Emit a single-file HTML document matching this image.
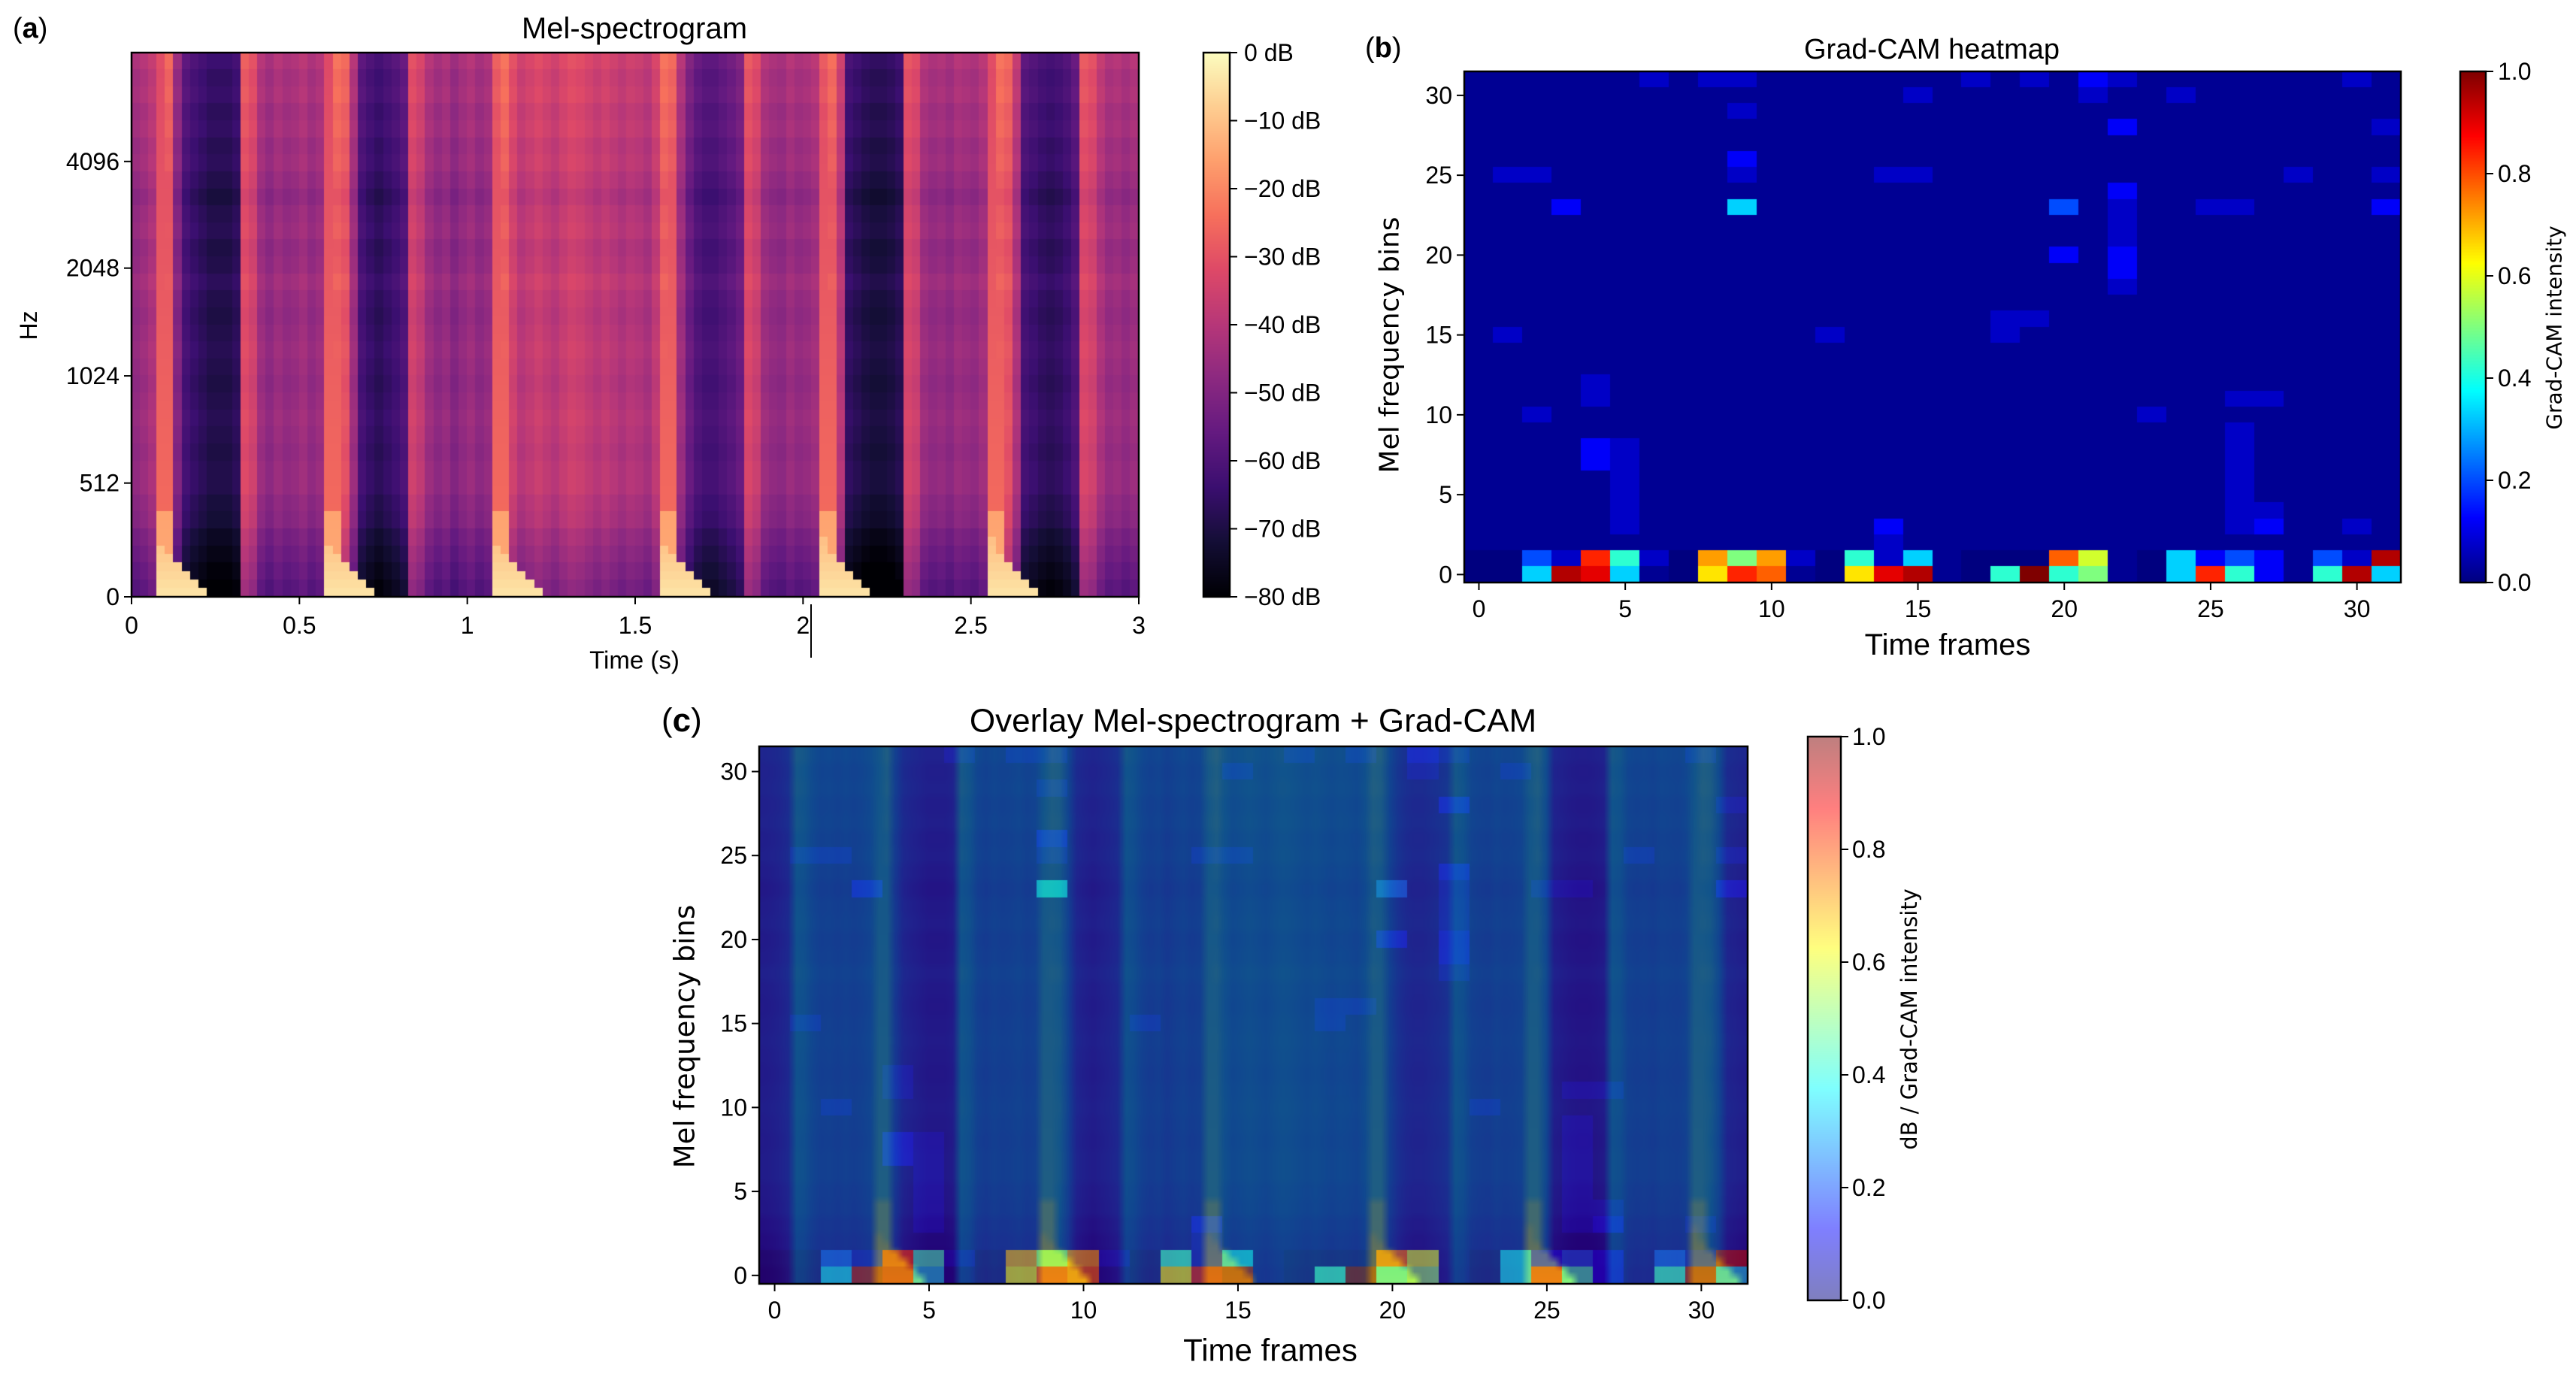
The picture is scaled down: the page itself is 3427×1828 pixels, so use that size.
<!DOCTYPE html>
<html><head><meta charset="utf-8">
<style>
html,body{margin:0;padding:0;background:#fff;}
#root{position:relative;width:3427px;height:1828px;overflow:hidden;background:#fff;}
canvas{position:absolute;}
svg{position:absolute;left:0;top:0;}
.nar{font-family:"Liberation Sans",sans-serif;}
.dv{font-family:"DejaVu Sans","Liberation Sans",sans-serif;}
</style></head>
<body>
<div id="root">
<canvas id="cva" style="left:175px;top:70px" width="1340" height="724"></canvas>
<canvas id="cbar_a" style="left:1601px;top:70px" width="35" height="724"></canvas>
<canvas id="cvb" style="left:1948px;top:95px" width="1246" height="680"></canvas>
<canvas id="cbar_b" style="left:3273px;top:95px" width="34" height="680"></canvas>
<canvas id="cvc" style="left:1010px;top:993px" width="1315" height="715"></canvas>
<canvas id="cbar_c" style="left:2405px;top:980px" width="44" height="750"></canvas>
<svg id="sv" width="3427" height="1828"></svg>
</div>
<script>
// ---------- DATA ----------
// Mel-spectrogram: level (dB) per 0.025 s time step (120 steps over 3 s)
const melTimeLevel = [
-47,-45,
-42,-36,-30,-50,
-62,-65,-67,-69,-69,-69,-67,
-32,-35,
-45,-48,-45,-47,-46,-44,-47,-45,
-38,-28,-30,-45,
-62,-65,-67,-65,-63,-60,
-35,-38,-45,
-48,-46,-50,-47,-45,-48,-46,
-32,-28,-35,
-40,-38,-36,-38,-40,-37,-35,-36,-38,-40,-38,-40,-42,-40,-41,-43,
-38,-28,-30,-45,
-55,-60,-62,-62,-60,-58,-55,
-33,-36,-45,
-47,-48,-45,-47,-46,-44,
-33,-29,-40,
-66,-68,-70,-71,-71,-70,-68,
-34,-36,-45,
-47,-46,-48,-45,-46,-47,-44,
-36,-28,-30,-42,
-62,-64,-66,-67,-66,-64,-60,
-33,-35,-42,
-46,-45,-47,-45];
// Offset (dB) per frequency band (32 bands, bottom to top)
const melFreqOffset = [-12,-10,-8,-6,-3,-2,0,0,-1,0,1,0,-1,0,1,0,-1,0,2,0,-1,1,0,-2,0,2,1,3,2,4,3,5];
// Onset times (s)
const onsetTimes = [0.08,0.58,1.08,1.58,2.06,2.56];
const melTimeTicks = [0,0.5,1,1.5,2,2.5,3];
const melTimeTickLabels = ["0","0.5","1","1.5","2","2.5","3"];
const melFreqTickFrac = [0,0.209,0.406,0.604,0.80];
const melFreqTickLabels = ["0","512","1024","2048","4096"];
const dbTicks = [0,-10,-20,-30,-40,-50,-60,-70,-80];

// Grad-CAM 32x32, rows bottom (0) to top (31), hex code per cell
const camCodes = [0,0.02,0.07,0.12,0.2,0.33,0.42,0.5,0.58,0.65,0.72,0.78,0.84,0.9,0.95,1.0];
const camRows = [
"005ed5109cb109de106f67105c6316e5",
"0042c620a7a206251000b8105343142e",
"11111111111111211111111111111111",
"11111211111111311111111111231121",
"11111211111111111111111111221111",
"11111211111111111111111111211111",
"11111211111111111111111111211111",
"11113211111111111111111111211111",
"11113211111111111111111111211111",
"11111111111111111111111111211111",
"11211111111111111111111211111111",
"11112111111111111111111111221111",
"11112111111111111111111111111111",
"11111111111111111111111111111111",
"11111111111111111111111111111111",
"12111111111121111121111111111111",
"11111111111111111122111111111111",
"11111111111111111111111111111111",
"11111111111111111111112111111111",
"11111111111111111111113111111111",
"11111111111111111111313111111111",
"11111111111111111111112111111111",
"11111111111111111111112111111111",
"11131111151111111111412112211113",
"11111111111111111111113111111111",
"12211111121111221111111111112112",
"11111111131111111111111111111111",
"11111111111111111111111111111111",
"11111111111111111111113111111112",
"11111111121111111111111111111111",
"11111111111111121111121121111111",
"11111121221111111212132111111121"];
const camTicks = [0,5,10,15,20,25,30];
const camTickLabels = ["0","5","10","15","20","25","30"];
const unitTicks = [0,0.2,0.4,0.6,0.8,1.0];
const unitTickLabels = ["0.0","0.2","0.4","0.6","0.8","1.0"];
const overlayShift = 0.285; // seconds shift of overlay base

// ---------- helpers ----------
function clamp(v){return Math.max(0,Math.min(1,v));}
function jet(v){v=clamp(v);return [255*clamp(1.5-Math.abs(4*v-3)),255*clamp(1.5-Math.abs(4*v-2)),255*clamp(1.5-Math.abs(4*v-1))];}
function lerpStops(st,v){v=clamp(v);const n=st.length-1;const p=v*n;const i=Math.min(n-1,Math.floor(p));const f=p-i;return [0,1,2].map(k=>st[i][k]+(st[i+1][k]-st[i][k])*f);}
const magmaS=[[0,0,4],[20,14,54],[59,15,112],[100,26,128],[140,41,129],[183,55,121],[222,73,104],[247,112,92],[254,159,109],[254,206,145],[252,253,191]];
const viridisS=[[68,1,84],[72,36,117],[65,68,135],[53,95,141],[42,120,142],[33,145,140],[34,168,132],[68,191,112],[122,209,81],[189,223,38],[253,231,37]];
function magma(v){return lerpStops(magmaS,v);}
function viridis(v){return lerpStops(viridisS,v);}
function rgb(c,a){return a===undefined?`rgb(${c[0]|0},${c[1]|0},${c[2]|0})`:`rgba(${c[0]|0},${c[1]|0},${c[2]|0},${a})`;}

const NT=melTimeLevel.length, NF=64;
function melDb(ti,fr){
  const t=(ti+0.5)*3/NT, f=(fr+0.5)/NF;
  let v=melTimeLevel[ti]+melFreqOffset[Math.floor(fr/2)];
  for(const o of onsetTimes){
    const dt=t-o;
    if(dt>=-0.012&&dt<0.035){ v=Math.max(v,(f<0.15?-14:-24)-8*f); }
    if(dt>=0&&dt<0.15){ const h=0.09*Math.pow(1-dt/0.15,1.5)+0.015; if(f<h) v=Math.max(v,-4-60*f); }
  }
  return Math.max(-80,Math.min(0,v));
}
const camVals = camRows.map(s=>s.split('').map(ch=>camCodes[parseInt(ch,16)]));

// ---------- panel a image + colorbars ----------
(function(){
  const cv=document.getElementById('cva'),ctx=cv.getContext('2d');
  const W=cv.width,H=cv.height;
  for(let ti=0;ti<NT;ti++)for(let fr=0;fr<NF;fr++){
    ctx.fillStyle=rgb(magma((melDb(ti,fr)+80)/80));
    const x0=Math.floor(ti*W/NT),x1=Math.floor((ti+1)*W/NT);
    const y1=Math.floor(H-fr*H/NF),y0=Math.floor(H-(fr+1)*H/NF);
    ctx.fillRect(x0,y0,x1-x0,y1-y0);
  }
  const cb=document.getElementById('cbar_a').getContext('2d');
  for(let y=0;y<724;y++){cb.fillStyle=rgb(magma(1-y/723));cb.fillRect(0,y,35,1);}
  const cb2=document.getElementById('cbar_b').getContext('2d');
  for(let y=0;y<680;y++){cb2.fillStyle=rgb(jet(1-y/679));cb2.fillRect(0,y,34,1);}
  const cb3=document.getElementById('cbar_c').getContext('2d');
  for(let y=0;y<750;y++){const c=jet(1-y/749);cb3.fillStyle=rgb([(c[0]+255)/2,(c[1]+255)/2,(c[2]+255)/2]);cb3.fillRect(0,y,44,1);}
})();

// ---------- panel b image ----------
(function(){
  const cv=document.getElementById('cvb'),ctx=cv.getContext('2d');
  const W=cv.width,H=cv.height;
  for(let r=0;r<32;r++)for(let c=0;c<32;c++){
    ctx.fillStyle=rgb(jet(camVals[r][c]));
    const x0=Math.floor(c*W/32),x1=Math.floor((c+1)*W/32);
    const y1=Math.floor(H-r*H/32),y0=Math.floor(H-(r+1)*H/32);
    ctx.fillRect(x0,y0,x1-x0,y1-y0);
  }
})();

// ---------- panel c image ----------
(function(){
  const cv=document.getElementById('cvc'),ctx=cv.getContext('2d');
  const W=cv.width,H=cv.height;
  const off=document.createElement('canvas');off.width=NT;off.height=NF;
  const oc=off.getContext('2d');
  for(let cx=0;cx<NT;cx++){
    let t=(cx+0.5)/NT*3-overlayShift; t=((t%3)+3)%3;
    const ti=Math.min(NT-1,Math.floor(t/3*NT));
    for(let fr=0;fr<NF;fr++){oc.fillStyle=rgb(viridis((melDb(ti,fr)+80)/80));oc.fillRect(cx,NF-1-fr,1,1);}
  }
  ctx.imageSmoothingEnabled=true;
  ctx.drawImage(off,0,0,W,H);
  for(let r=0;r<32;r++)for(let c=0;c<32;c++){
    ctx.fillStyle=rgb(jet(camVals[r][c]),0.5);
    const x0=Math.floor(c*W/32),x1=Math.floor((c+1)*W/32);
    const y1=Math.floor(H-r*H/32),y0=Math.floor(H-(r+1)*H/32);
    ctx.fillRect(x0,y0,x1-x0,y1-y0);
  }
})();

// ---------- axes / text ----------
const sv=document.getElementById('sv');
const NS='http://www.w3.org/2000/svg';
function el(tag,attrs,parent){const e=document.createElementNS(NS,tag);for(const k in attrs)e.setAttribute(k,attrs[k]);(parent||sv).appendChild(e);return e;}
function txt(s,x,y,size,cls,anchor,name,rot){
  const e=el('text',{x:0,y:0,'font-size':size,'text-anchor':anchor||'middle','dominant-baseline':'central',class:cls,fill:'#000'});
  e.setAttribute('transform',`translate(${x} ${y})${rot?' rotate(-90)':''}`);
  e.textContent=s;
  
  
  return e;
}
function frame(x,y,w,h,name){const r=el('rect',{x:x,y:y,width:w,height:h,fill:'none',stroke:'#000','stroke-width':2.5});}
function tick(x1,y1,x2,y2){const l=el('line',{x1:x1,y1:y1,x2:x2,y2:y2,stroke:'#000','stroke-width':2});}

// Panel a
const A={l:175,t:70,w:1340,h:724};
const xa=v=>A.l+v/3*A.w, ya=f=>A.t+A.h-f*A.h;
frame(A.l,A.t,A.w,A.h,'mel-plot-frame');
melTimeTicks.forEach((v,i)=>{tick(xa(v),A.t+A.h,xa(v),A.t+A.h+10);txt(melTimeTickLabels[i],xa(v),832,32,'nar','middle','x-tick-label');});
melFreqTickFrac.forEach((f,i)=>{tick(A.l,ya(f),A.l-10,ya(f));txt(melFreqTickLabels[i],A.l-16,ya(f),32,'nar','end','y-tick-label');});
txt('Time (s)',844,878,33,'nar','middle','x-axis-title');
txt('Hz',38,433,32,'nar','middle','y-axis-title',true);
txt('Mel-spectrogram',844,38,40,'nar','middle','mel-title');
(function(){const e=txt('',17,38,38,'nar','start','panel-label-a');e.innerHTML='(<tspan font-weight="bold">a</tspan>)';})();
(function(){const l=el('line',{x1:1079,y1:804,x2:1079,y2:875,stroke:'#000','stroke-width':2});})();
frame(1601,70,35,724,'db-colorbar-frame');
dbTicks.forEach(d=>{const y=70+(-d/80)*724;tick(1636,y,1646,y);txt((d===0?'0':'\u2212'+(-d))+' dB',1655,y,32,'nar','start','colorbar-tick-label');});

// Panel b
const B={l:1948,t:95,w:1246,h:680};
const xb=v=>B.l+(v+0.5)*B.w/32, yb=v=>B.t+B.h-(v+0.5)*B.h/32;
frame(B.l,B.t,B.w,B.h,'gradcam-plot-frame');
camTicks.forEach((v,i)=>{tick(xb(v),B.t+B.h,xb(v),B.t+B.h+10);txt(camTickLabels[i],xb(v),810,32,'nar','middle','x-tick-label');
 tick(B.l,yb(v),B.l-10,yb(v));txt(camTickLabels[i],B.l-16,yb(v),32,'nar','end','y-tick-label');});
txt('Time frames',2591,858,40,'nar','middle','x-axis-title');
txt('Mel frequency bins',1849,459,36,'dv','middle','y-axis-title',true);
txt('Grad-CAM heatmap',2570,66,38,'nar','middle','gradcam-title');
(function(){const e=txt('',1816,64,38,'nar','start','panel-label-b');e.innerHTML='(<tspan font-weight="bold">b</tspan>)';})();
frame(3273,95,34,680,'gradcam-colorbar-frame');
unitTicks.forEach((v,i)=>{const y=95+680-v*680;tick(3307,y,3317,y);txt(unitTickLabels[i],3323,y,32,'nar','start','colorbar-tick-label');});
txt('Grad-CAM intensity',3398,436,28,'dv','middle','colorbar-title',true);

// Panel c
const C={l:1010,t:993,w:1315,h:715};
const xc=v=>C.l+(v+0.5)*C.w/32, yc=v=>C.t+C.h-(v+0.5)*C.h/32;
frame(C.l,C.t,C.w,C.h,'overlay-plot-frame');
camTicks.forEach((v,i)=>{tick(xc(v),C.t+C.h,xc(v),C.t+C.h+10);txt(camTickLabels[i],xc(v),1743,32,'nar','middle','x-tick-label');
 tick(C.l,yc(v),C.l-10,yc(v));txt(camTickLabels[i],C.l-16,yc(v),32,'nar','end','y-tick-label');});
txt('Time frames',1690,1796,42,'nar','middle','x-axis-title');
txt('Mel frequency bins',911,1379,37,'dv','middle','y-axis-title',true);
txt('Overlay Mel-spectrogram + Grad-CAM',1667,959,44,'nar','middle','overlay-title');
(function(){const e=txt('',880,958,44,'nar','start','panel-label-c');e.innerHTML='(<tspan font-weight="bold">c</tspan>)';})();
frame(2405,980,44,750,'overlay-colorbar-frame');
unitTicks.forEach((v,i)=>{const y=980+750-v*750;tick(2449,y,2459,y);txt(unitTickLabels[i],2464,y,32,'nar','start','colorbar-tick-label');});
txt('dB / Grad-CAM intensity',2540,1356,29,'dv','middle','colorbar-title',true);
</script>
</body></html>
